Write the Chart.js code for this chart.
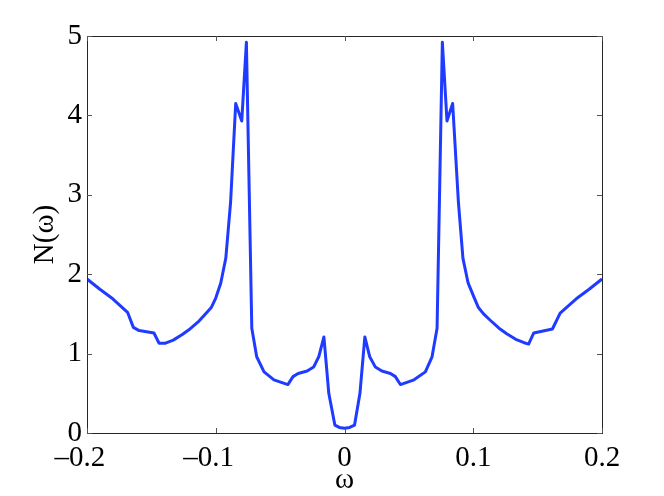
<!DOCTYPE html>
<html>
<head>
<meta charset="utf-8">
<script src="https://cdn.jsdelivr.net/npm/chart.js@4.4.1/dist/chart.umd.min.js"></script>
<style>
  html, body { margin: 0; padding: 0; background: #fff; }
  #wrap { width: 664px; height: 496px; }
</style>
</head>
<body>
<div id="wrap"><canvas id="chart" width="664" height="496"></canvas></div>
<script>
// frequency axis and density values
const omega = [
  -0.2, -0.19, -0.18, -0.1685, -0.164, -0.1595, -0.148, -0.144, -0.1395,
  -0.133, -0.126, -0.12, -0.113, -0.108, -0.1035, -0.1, -0.0961, -0.0922,
  -0.0885, -0.0845, -0.0798, -0.0762, -0.072, -0.0682, -0.0625, -0.0548,
  -0.044, -0.040, -0.036, -0.029, -0.024, -0.020, -0.016, -0.0122, -0.0075,
  -0.004, 0, 0.004, 0.0078, 0.012, 0.0158, 0.0196, 0.024, 0.029, 0.0357,
  0.0395, 0.0434, 0.054, 0.0628, 0.068, 0.0719, 0.0760, 0.0796, 0.0840,
  0.0885, 0.092, 0.096, 0.1003, 0.104, 0.108, 0.1132, 0.12, 0.126, 0.133,
  0.139, 0.143, 0.147, 0.1615, 0.1675, 0.18, 0.19, 0.2
];
const density = [
  1.94, 1.81, 1.69, 1.52, 1.33, 1.29, 1.26, 1.13, 1.13,
  1.17, 1.24, 1.31, 1.41, 1.50, 1.58, 1.70, 1.89, 2.20,
  2.90, 4.15, 3.93, 4.92, 1.32, 0.96, 0.77, 0.67,
  0.61, 0.71, 0.75, 0.78, 0.83, 0.96, 1.21, 0.50, 0.10,
  0.07, 0.06, 0.07, 0.10, 0.50, 1.21, 0.96, 0.83, 0.78, 0.75,
  0.71, 0.61, 0.67, 0.77, 0.96, 1.32, 4.92, 3.93, 4.15,
  2.90, 2.20, 1.89, 1.72, 1.58, 1.50, 1.42, 1.32, 1.25, 1.18,
  1.14, 1.12, 1.26, 1.31, 1.51, 1.69, 1.81, 1.94
];

const xTicks = [-0.2, -0.1, 0, 0.1, 0.2];
const xTickLabels = ['\u20130.2\u2002', '\u20130.1\u2002', '0', '0.1', '0.2'];
const yTicks = [0, 1, 2, 3, 4, 5];
const yTickLabels = ['0', '1', '2', '3', '4', '5'];

const serif = '"Liberation Serif", "Times New Roman", serif';

// matlab style box with inward ticks
const boxPlugin = {
  id: 'box',
  afterDraw(chart) {
    const {ctx, chartArea: a, scales} = chart;
    ctx.save();
    ctx.strokeStyle = '#262626';
    ctx.lineWidth = 1;
    ctx.strokeRect(a.left + 0.5, a.top + 0.5, a.right - a.left, a.bottom - a.top);
    ctx.strokeStyle = '#555';
    const len = 5;
    ctx.beginPath();
    xTicks.forEach(v => {
      const px = Math.round(scales.x.getPixelForValue(v)) + 0.5;
      ctx.moveTo(px, a.bottom); ctx.lineTo(px, a.bottom - len);
      ctx.moveTo(px, a.top); ctx.lineTo(px, a.top + len);
    });
    yTicks.forEach(v => {
      const py = Math.round(scales.y.getPixelForValue(v)) + 0.5;
      ctx.moveTo(a.left, py); ctx.lineTo(a.left + len, py);
      ctx.moveTo(a.right, py); ctx.lineTo(a.right - len, py);
    });
    ctx.stroke();
    ctx.restore();
  }
};

new Chart(document.getElementById('chart'), {
  type: 'scatter',
  data: {
    datasets: [{
      data: omega.map((w, i) => ({x: w, y: density[i]})),
      showLine: true,
      borderColor: '#1f3bff',
      borderWidth: 3,
      pointRadius: 0,
      tension: 0,
      borderJoinStyle: 'round'
    }]
  },
  options: {
    responsive: false,
    animation: false,
    layout: { padding: { top: 36, right: 62, left: 0, bottom: 0 } },
    plugins: { legend: { display: false }, tooltip: { enabled: false } },
    scales: {
      x: {
        type: 'linear',
        min: -0.2,
        max: 0.2,
        afterBuildTicks: s => { s.ticks = xTicks.map(v => ({value: v})); },
        afterFit: s => { s.height = 63; },
        grid: { display: false, drawTicks: false },
        border: { display: false },
        ticks: {
          color: '#000',
          padding: 8,
          maxRotation: 0,
          font: { family: serif, size: 29 },
          callback: (v, i) => xTickLabels[i]
        },
        title: {
          display: true,
          text: '\u03c9',
          color: '#000',
          padding: { top: 0, bottom: 0 },
          font: { family: serif, size: 29, lineHeight: 1.05 }
        }
      },
      y: {
        min: 0,
        max: 5,
        afterBuildTicks: s => { s.ticks = yTicks.map(v => ({value: v})); },
        afterFit: s => { s.width = 87; },
        grid: { display: false, drawTicks: false },
        border: { display: false },
        ticks: {
          color: '#000',
          padding: 5,
          font: { family: serif, size: 29 },
          callback: (v, i) => yTickLabels[i]
        },
        title: {
          display: true,
          text: 'N(\u03c9)',
          color: '#000',
          padding: { top: 28, bottom: 0 },
          font: { family: serif, size: 29, lineHeight: 1.2 }
        }
      }
    }
  },
  plugins: [boxPlugin]
});
</script>
</body>
</html>
